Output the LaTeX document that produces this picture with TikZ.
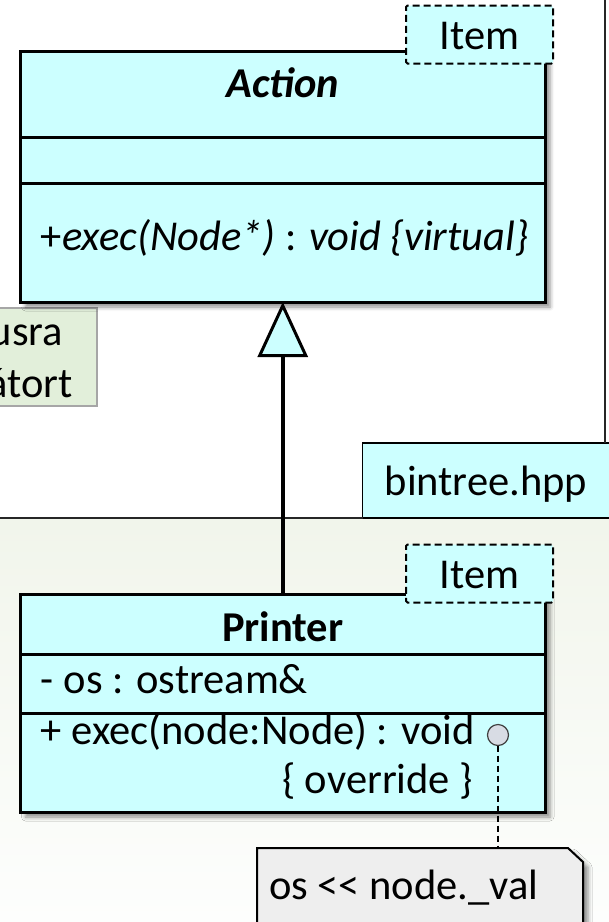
\documentclass[tikz,border=0pt]{standalone}
\usepackage{fontspec}
\setmainfont{Carlito}
\usetikzlibrary{arrows.meta,shadows.blur}
\definecolor{umlcyan}{HTML}{CCFFFF}
\definecolor{notegreen}{HTML}{E2EFDA}
\definecolor{notegray}{HTML}{EEEEEE}
\definecolor{pkgtop}{HTML}{F1F5EB}
\definecolor{pkgbottom}{HTML}{FDFEFD}
\definecolor{hookgray}{HTML}{D8DCE4}
\begin{document}
\begin{tikzpicture}[x=1pt,y=-1pt,
  every node/.style={font=\fontsize{42.5}{50}\selectfont, inner sep=0pt, outer sep=0pt},
  softshadow/.style={blur shadow={shadow xshift=5pt, shadow yshift=-5pt,
      shadow blur radius=4pt, shadow opacity=45}},
  classbox/.style={draw, line width=3pt, fill=umlcyan, anchor=north west,
      minimum width=524.5pt, softshadow},
  sepline/.style={line width=3pt},
  itemtag/.style={draw, line width=2pt, dash pattern=on 7pt off 4pt,
      fill=umlcyan, rounded corners=1.5pt, anchor=north west,
      minimum width=147pt, minimum height=58pt},
  pkgline/.style={line width=2pt, draw=black!85},
  genline/.style={line width=4pt,
      -{Triangle[length=55pt, width=50pt, fill=umlcyan, line width=3pt]}},
  notelink/.style={line width=1.5pt, dash pattern=on 6pt off 4pt},
]
\useasboundingbox (0,0) rectangle (609,922);

% lower package area
\shade[top color=pkgtop, bottom color=pkgbottom] (0,518) rectangle (609,922);

% comment note on the left edge
\draw[fill=notegreen, draw=black!35, line width=2pt] (-20,308) rectangle (97,406);
\node[anchor=base east] (cmt1) at (63,345) {usra};
\node[anchor=base east] (cmt2) at (73,397) {átort};

% file tab and package frame
\node[draw, line width=1.5pt, fill=umlcyan, anchor=north west,
      minimum width=252pt, minimum height=75pt] (bintree) at (362.5,443) {};
\node[anchor=base] (bintreelbl) at (486,495) {bintree.hpp};
\coordinate (frametop) at (605,-5);
\draw[pkgline] (frametop) -- (frametop |- bintree.north);
\coordinate (frameleft) at (-5,518);
\draw[pkgline] (frameleft) -- (bintree.south west);

% class Action
\node[classbox, minimum height=250.5pt] (action) at (20.5,51.5) {};
\draw[sepline] (action.west |- 0,137) -- (action.east |- 0,137);
\draw[sepline] (action.west |- 0,183) -- (action.east |- 0,183);
\node[anchor=base, font=\fontsize{42.5}{50}\selectfont\bfseries\itshape] (actname) at (282.75,97.5) {Action};
\node[anchor=base west] (actop) at (41,250.5) {+\textit{exec(Node*)} : \textit{void \{virtual\}}};
\node[itemtag] (tagA) at (406,5.5) {};
\node[anchor=base] (tagAlbl) at (479.5,49.3) {Item};

% class Printer
\node[classbox, minimum height=218pt] (printer) at (20.5,594) {};
\draw[sepline] (printer.west |- 0,654) -- (printer.east |- 0,654);
\draw[sepline] (printer.west |- 0,713) -- (printer.east |- 0,713);
\node[anchor=base, font=\fontsize{42.5}{50}\selectfont\bfseries] (prtname) at (282.75,641.5) {Printer};
\node[anchor=base west] (prtattr) at (41,693) {- os : ostream\&};
\node[anchor=base west] (prtop) at (41,744) {+ exec(node:Node) : void};
\node[anchor=base east] (prtop2) at (473,793) {\{ override \}};
\node[itemtag] (tagP) at (406,544.5) {};
\node[anchor=base] (tagPlbl) at (479.5,588) {Item};

% inheritance
\draw[genline] (printer.north) -- (action.south);

% implementation note
\draw[fill=notegray, line width=2pt, softshadow]
  (257,848) -- (568,848) -- (583,862) -- (583,945) -- (257,945) -- cycle;
\coordinate (memotop) at (498,848);
\node[anchor=base west] (memotxt) at (269,899) {os <{}< node.\_val};
\node[circle, draw=black!75, fill=hookgray, line width=1.2pt, minimum size=21pt] (hook) at (498,735) {};
\draw[notelink] (hook.south) -- (memotop);
\end{tikzpicture}
\end{document}
